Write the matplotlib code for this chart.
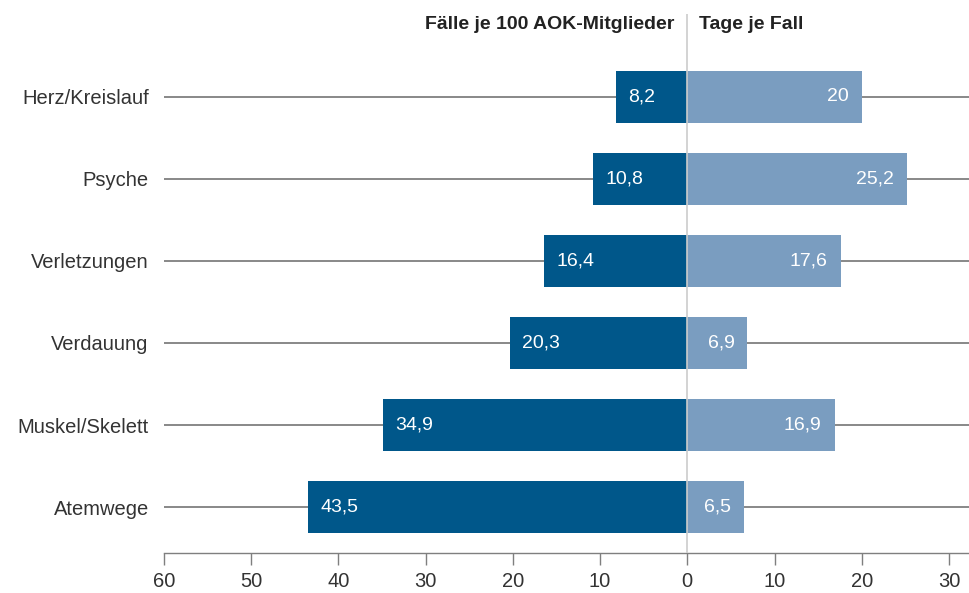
#!/usr/bin/env python3

import matplotlib

matplotlib.use("Agg")
import matplotlib.pyplot as plt
import numpy as np

plt.rcParams["font.family"] = ["Liberation Sans", "DejaVu Sans"]

categories = ["Herz/Kreislauf", "Psyche", "Verletzungen", "Verdauung", "Muskel/Skelett", "Atemwege"]
faelle_je_100 = [8.2, 10.8, 16.4, 20.3, 34.9, 43.5]
tage_je_fall = [20, 25.2, 17.6, 6.9, 16.9, 6.5]
tick_values = [-60, -50, -40, -30, -20, -10, 0, 10, 20, 30]

DARK = "#00578a"
LIGHT = "#7a9dc0"
GREY = "#7f7f7f"
TEXT = "#333333"


def fmt(v):
    s = f"{v:g}"
    return s.replace(".", ",")


def main() -> None:
    fig = plt.figure(figsize=(9.69, 5.93), dpi=100)
    ax = fig.add_axes([164 / 969, 40 / 593, 805 / 969, 539 / 593])

    y = np.arange(len(categories))
    h = 0.634

    # row guide lines behind the bars
    for yi in y:
        ax.axhline(yi, color=GREY, lw=1.3, zorder=1)

    ax.barh(y, [-v for v in faelle_je_100], height=h, color=DARK, zorder=2)
    ax.barh(y, tage_je_fall, height=h, color=LIGHT, zorder=2)

    for yi, v in zip(y, faelle_je_100):
        ax.text(-v + 1.4, yi, fmt(v), color="white", fontsize=14, va="center", ha="left", zorder=4)
    for yi, v in zip(y, tage_je_fall):
        ax.text(v - 1.5, yi, fmt(v), color="white", fontsize=14, va="center", ha="right", zorder=4)

    ax.axvline(0, color="#cccccc", lw=1.2, zorder=3)

    ax.text(-1.5, -0.88, "Fälle je 100 AOK-Mitglieder", fontsize=14, fontweight="bold",
            color="#222222", ha="right", va="center")
    ax.text(1.3, -0.88, "Tage je Fall", fontsize=14, fontweight="bold",
            color="#222222", ha="left", va="center")

    ax.set_xlim(-60, 32.3)
    ax.set_ylim(5.56, -1.01)

    ax.set_yticks(y)
    ax.set_yticklabels(categories, fontsize=14.5, color=TEXT)
    ax.tick_params(axis="y", length=0, pad=11)

    ax.set_xticks(tick_values)
    ax.set_xticklabels([str(abs(t)) for t in tick_values], fontsize=14.5, color=TEXT)
    ax.tick_params(axis="x", direction="out", length=8.6, width=1, color=GREY, pad=5)

    for side in ["top", "right", "left"]:
        ax.spines[side].set_visible(False)
    ax.spines["bottom"].set_color(GREY)
    ax.spines["bottom"].set_linewidth(1)

    fig.savefig("out.png", dpi=100)


if __name__ == "__main__":
    main()
